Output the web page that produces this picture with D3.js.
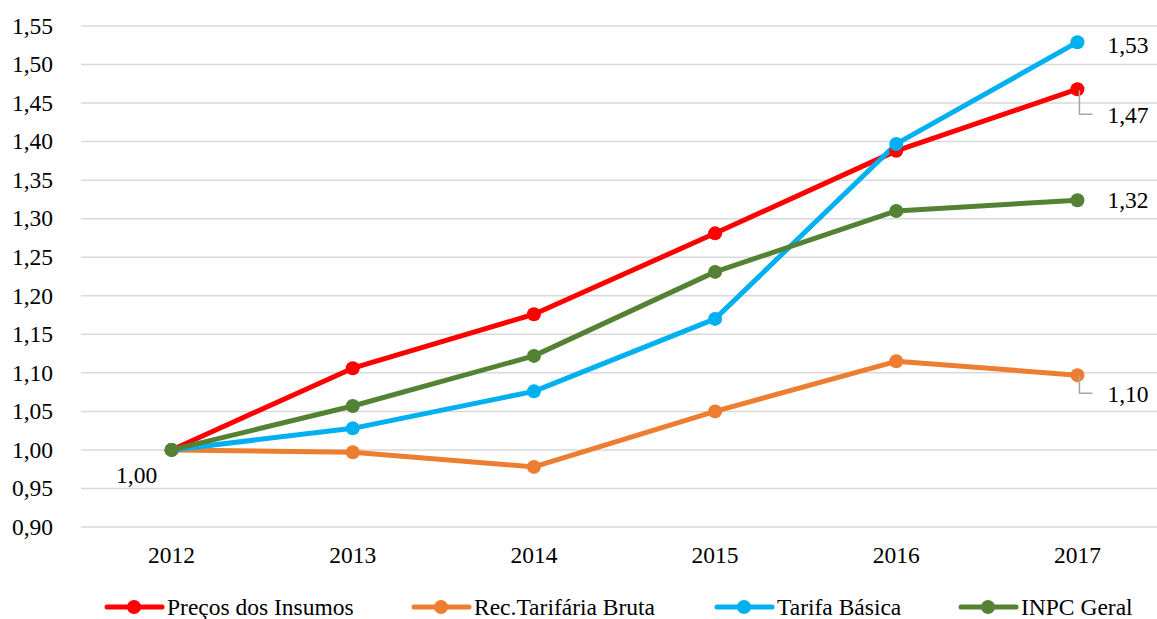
<!DOCTYPE html>
<html>
<head>
<meta charset="utf-8">
<script src="https://cdn.jsdelivr.net/npm/d3@7"></script>
<style>
  html, body { margin: 0; padding: 0; background: #fff; }
  svg { display: block; }
</style>
</head>
<body>
<svg id="chart" width="1157" height="619"></svg>
<script>
// Years on the horizontal axis
const years = ["2012", "2013", "2014", "2015", "2016", "2017"];

// Index values (base 2012 = 1,00)
const precosInsumos   = [1.000, 1.106, 1.176, 1.281, 1.388, 1.468];
const recTarifaria    = [1.000, 0.997, 0.978, 1.050, 1.115, 1.097];
const tarifaBasica    = [1.000, 1.028, 1.076, 1.170, 1.397, 1.529];
const inpcGeral       = [1.000, 1.057, 1.122, 1.231, 1.310, 1.324];

const seriesNames  = ["Preços dos Insumos", "Rec.Tarifária Bruta", "Tarifa Básica", "INPC Geral"];
const seriesColors = ["#ff0000", "#ed7d31", "#00b0f0", "#548235"];

// Y axis ticks
const yTicks = [0.90, 0.95, 1.00, 1.05, 1.10, 1.15, 1.20, 1.25, 1.30, 1.35, 1.40, 1.45, 1.50, 1.55];

const series = [precosInsumos, recTarifaria, tarifaBasica, inpcGeral].map((vals, i) => ({
  name: seriesNames[i], color: seriesColors[i], values: vals
}));

const FONT = "'Liberation Serif', 'Times New Roman', serif";
const svg = d3.select("#chart");
const fmt = v => d3.format(".2f")(v).replace(".", ",");
const txt = sel => sel.style("font-family", FONT).style("font-size", "23.5px").attr("fill", "#000");

const x = d3.scaleBand().domain(years).range([81, 1168]);
const y = d3.scaleLinear().domain([0.90, 1.55]).range([527, 26]);
const cx = d => x(d) + x.bandwidth() / 2;

// Gridlines
svg.append("g").selectAll("line").data(yTicks).join("line")
  .attr("x1", 81).attr("x2", 1168)
  .attr("y1", d => y(d)).attr("y2", d => y(d))
  .attr("stroke", "#d9d9d9").attr("stroke-width", 1.5);

// Y tick labels
svg.append("g").selectAll("text").data(yTicks).join("text")
  .attr("x", 53).attr("y", d => y(d)).attr("dy", "0.33em")
  .attr("text-anchor", "end").call(txt)
  .text(fmt);

// X tick labels
svg.append("g").selectAll("text").data(years).join("text")
  .attr("x", d => cx(d)).attr("y", 555).attr("dy", "0.33em")
  .attr("text-anchor", "middle").call(txt)
  .text(d => d);

// Lines and markers
const line = d3.line().x((d, i) => cx(years[i])).y(d => y(d));
const g = svg.append("g");
series.forEach(s => {
  g.append("path").datum(s.values)
    .attr("d", line).attr("fill", "none")
    .attr("stroke", s.color).attr("stroke-width", 5)
    .attr("stroke-linejoin", "round").attr("stroke-linecap", "round");
});
series.forEach(s => {
  g.selectAll(null).data(s.values).join("circle")
    .attr("cx", (d, i) => cx(years[i])).attr("cy", d => y(d))
    .attr("r", 7).attr("fill", s.color);
});

// Value labels on the last point of each series, plus the base value
const last = years.length - 1;
const xl = cx(years[last]);
const labels = [
  { v: tarifaBasica[last],  dy: 3,  leader: false },
  { v: precosInsumos[last], dy: 26, leader: true  },
  { v: inpcGeral[last],     dy: 0,  leader: false },
  { v: recTarifaria[last],  dy: 19, leader: true  }
];
const lg = svg.append("g");
labels.forEach(l => {
  const py = y(l.v);
  if (l.leader) {
    lg.append("path")
      .attr("d", `M${xl + 2},${py + 1} V${py + l.dy - 1} H${xl + 15}`)
      .attr("fill", "none").attr("stroke", "#a6a6a6").attr("stroke-width", 1.5);
  }
  lg.append("text")
    .attr("x", xl + 30).attr("y", py + l.dy).attr("dy", "0.33em")
    .call(txt)
    .text(fmt(l.v));
});
lg.append("text")
  .attr("x", cx(years[0]) - 35).attr("y", y(precosInsumos[0]) + 25).attr("dy", "0.33em")
  .attr("text-anchor", "middle").call(txt)
  .text(fmt(precosInsumos[0]));

// Legend
const legendX = [107, 414, 717, 961];
const leg = svg.append("g");
series.forEach((s, i) => {
  const lx = legendX[i], ly = 607;
  leg.append("line").attr("x1", lx).attr("x2", lx + 55).attr("y1", ly).attr("y2", ly)
    .attr("stroke", s.color).attr("stroke-width", 5).attr("stroke-linecap", "round");
  leg.append("circle").attr("cx", lx + 27).attr("cy", ly).attr("r", 7).attr("fill", s.color);
  leg.append("text").attr("x", lx + 60).attr("y", ly).attr("dy", "0.33em")
    .call(txt).text(s.name);
});
</script>
</body>
</html>
